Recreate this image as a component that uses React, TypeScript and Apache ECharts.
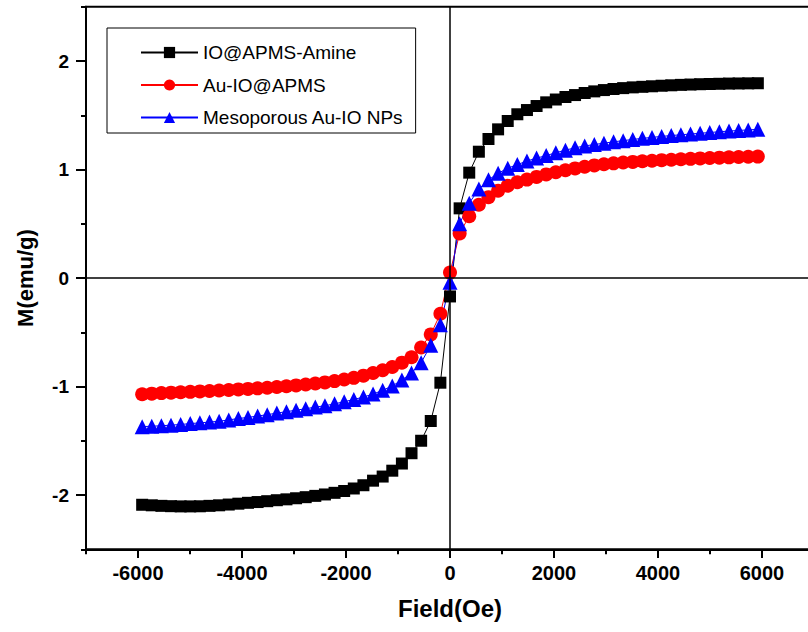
import { useEffect, useRef } from 'react';
import * as echarts from 'echarts';

// Field values (Oe) of the measured points
const fieldOe = [
  -5920, -5735, -5550, -5365, -5180, -4995, -4810, -4625, -4440, -4255,
  -4070, -3885, -3700, -3515, -3330, -3145, -2960, -2775, -2590, -2405,
  -2220, -2035, -1850, -1665, -1480, -1295, -1110, -925, -740, -555,
  -370, -185, 0, 185, 370, 555, 740, 925, 1110, 1295,
  1480, 1665, 1850, 2035, 2220, 2405, 2590, 2775, 2960, 3145,
  3330, 3515, 3700, 3885, 4070, 4255, 4440, 4625, 4810, 4995,
  5180, 5365, 5550, 5735, 5920,
];

// M (emu/g) for IO@APMS-Amine
const ioApmsAmine = [
  -2.09, -2.095, -2.1, -2.103, -2.105, -2.105, -2.104, -2.1, -2.095, -2.088,
  -2.08, -2.072, -2.065, -2.057, -2.048, -2.04, -2.03, -2.02, -2.008, -1.995,
  -1.98, -1.963, -1.94, -1.91, -1.868, -1.83, -1.776, -1.71, -1.615, -1.5,
  -1.318, -0.965, -0.17, 0.642, 0.971, 1.164, 1.281, 1.37, 1.447, 1.509,
  1.548, 1.585, 1.619, 1.645, 1.668, 1.686, 1.705, 1.72, 1.732, 1.742,
  1.75, 1.757, 1.762, 1.767, 1.772, 1.776, 1.78, 1.783, 1.786, 1.788,
  1.79, 1.792, 1.793, 1.794, 1.795,
];

// M (emu/g) for Au-IO@APMS
const auIoApms = [
  -1.072, -1.066, -1.061, -1.057, -1.053, -1.049, -1.045, -1.041, -1.037, -1.032,
  -1.027, -1.022, -1.017, -1.011, -1.005, -0.998, -0.99, -0.981, -0.972, -0.962,
  -0.95, -0.936, -0.92, -0.9, -0.876, -0.85, -0.82, -0.78, -0.73, -0.64,
  -0.52, -0.33, 0.05, 0.41, 0.57, 0.675, 0.745, 0.805, 0.85, 0.882,
  0.907, 0.932, 0.955, 0.975, 0.993, 1.01, 1.025, 1.038, 1.048, 1.057,
  1.064, 1.07, 1.076, 1.081, 1.086, 1.09, 1.094, 1.098, 1.102, 1.106,
  1.109, 1.112, 1.115, 1.117, 1.119,
];

// M (emu/g) for Mesoporous Au-IO NPs
const mesoporousAuIoNps = [
  -1.37, -1.366, -1.362, -1.356, -1.35, -1.342, -1.335, -1.328, -1.32, -1.308,
  -1.295, -1.285, -1.272, -1.26, -1.245, -1.232, -1.218, -1.205, -1.19, -1.177,
  -1.16, -1.14, -1.12, -1.097, -1.07, -1.035, -0.995, -0.94, -0.875, -0.78,
  -0.62, -0.43, -0.04, 0.5, 0.69, 0.82, 0.905, 0.965, 1.012, 1.045,
  1.078, 1.105, 1.128, 1.155, 1.178, 1.2, 1.217, 1.23, 1.243, 1.255,
  1.266, 1.277, 1.287, 1.296, 1.305, 1.313, 1.32, 1.327, 1.334, 1.341,
  1.348, 1.354, 1.36, 1.365, 1.37,
];

const seriesNames = ['IO@APMS-Amine', 'Au-IO@APMS', 'Mesoporous Au-IO NPs'];
const xAxisTitle = 'Field(Oe)';
const yAxisTitle = 'M(emu/g)';

export default function App() {
  const ref = useRef<HTMLDivElement>(null);

  useEffect(() => {
    if (!ref.current) return;
    const chart = echarts.init(ref.current, null, { renderer: 'svg', width: 808, height: 632 });
    const font = "'Liberation Sans', Arial, sans-serif";
    const pair = (ys: number[]) => fieldOe.map((x, i) => [x, ys[i]]);
    const black = '#000';

    chart.setOption({
      animation: false,
      backgroundColor: '#fff',
      grid: [
        {
          left: 86, top: 6.75, right: -6, bottom: 82.75,
          show: true, borderColor: black, borderWidth: 2, backgroundColor: 'transparent',
          containLabel: false, outerBoundsMode: 'none',
        },
        {
          left: 138, top: 61, right: 46, bottom: 137,
          show: false, containLabel: false, outerBoundsMode: 'none',
        },
      ],
      xAxis: [
        {
          gridIndex: 0, type: 'value', min: -7000, max: 7000, interval: 1000,
          axisLine: { show: true, onZero: false, lineStyle: { color: black, width: 2 } },
          axisTick: { show: true, inside: false, length: 5, lineStyle: { color: black, width: 2 } },
          axisLabel: { show: false },
          splitLine: { show: false },
          name: xAxisTitle, nameLocation: 'middle', nameGap: 47, nameMoveOverlap: false,
          nameTextStyle: { fontFamily: font, fontSize: 24, fontWeight: 'bold', color: black },
        },
        {
          gridIndex: 1, type: 'value', min: -6000, max: 6000, interval: 2000, offset: 54,
          axisLine: { show: false, onZero: false },
          axisTick: { show: true, inside: false, length: 9, lineStyle: { color: black, width: 2 } },
          axisLabel: {
            show: true, margin: 14, fontFamily: font, fontSize: 20, fontWeight: 'bold', color: black,
            formatter: (v: number) => String(v),
          },
          splitLine: { show: false },
        },
      ],
      yAxis: [
        {
          gridIndex: 0, type: 'value', min: -2.5, max: 2.5, interval: 0.5,
          axisLine: { show: true, onZero: false, lineStyle: { color: black, width: 2 } },
          axisTick: { show: true, inside: false, length: 5, lineStyle: { color: black, width: 2 } },
          axisLabel: { show: false },
          splitLine: { show: false },
          name: yAxisTitle, nameLocation: 'middle', nameGap: 50, nameRotate: 90, nameMoveOverlap: false,
          nameTextStyle: { fontFamily: font, fontSize: 22, fontWeight: 'bold', color: black },
        },
        {
          gridIndex: 1, type: 'value', min: -2, max: 2, interval: 1, offset: 52,
          axisLine: { show: false, onZero: false },
          axisTick: { show: true, inside: false, length: 10, lineStyle: { color: black, width: 2 } },
          axisLabel: {
            show: true, margin: 17, fontFamily: font, fontSize: 19, fontWeight: 'bold', color: black,
            formatter: (v: number) => String(v),
          },
          splitLine: { show: false },
        },
      ],
      legend: {
        show: true,
        orient: 'vertical',
        left: 107,
        top: 28,
        padding: [15, 12, 6, 33],
        itemGap: 13.5,
        itemWidth: 57,
        itemHeight: 14,
        borderColor: black,
        borderWidth: 1,
        backgroundColor: '#fff',
        textStyle: { fontFamily: font, fontSize: 19, color: black },
        data: seriesNames,
      },
      series: [
        {
          name: seriesNames[0], type: 'line', xAxisIndex: 0, yAxisIndex: 0,
          data: pair(ioApmsAmine),
          symbol: 'rect', symbolSize: 12,
          itemStyle: { color: '#000' },
          lineStyle: { color: '#000', width: 1 },
          emphasis: { disabled: true },
          markLine: {
            silent: true,
            symbol: ['none', 'none'],
            label: { show: false },
            lineStyle: { color: black, width: 1.5, type: 'solid' },
            emphasis: { disabled: true },
            data: [{ xAxis: 0 }, { yAxis: 0 }],
          },
        },
        {
          name: seriesNames[1], type: 'line', xAxisIndex: 0, yAxisIndex: 0,
          data: pair(auIoApms),
          symbol: 'circle', symbolSize: 14,
          itemStyle: { color: '#ff0000' },
          lineStyle: { color: '#ff0000', width: 1 },
          emphasis: { disabled: true },
        },
        {
          name: seriesNames[2], type: 'line', xAxisIndex: 0, yAxisIndex: 0,
          data: pair(mesoporousAuIoNps),
          symbol: 'triangle', symbolSize: 15,
          itemStyle: { color: '#0000ff' },
          lineStyle: { color: '#0000ff', width: 1 },
          emphasis: { disabled: true },
        },
      ],
    });

    return () => chart.dispose();
  }, []);

  return (
    <div
      ref={ref}
      style={{ position: 'absolute', left: 0, top: 0, width: 808, height: 632, background: '#fff' }}
    />
  );
}
